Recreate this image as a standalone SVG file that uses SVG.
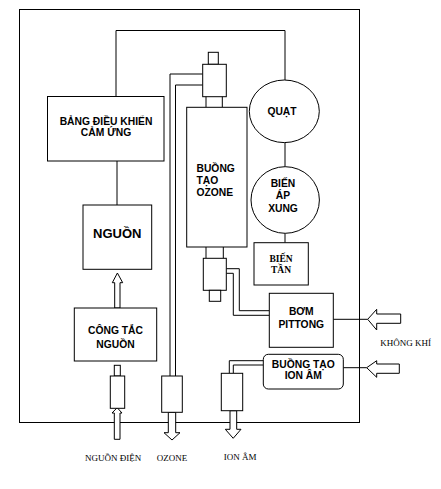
<svg xmlns="http://www.w3.org/2000/svg" width="441" height="489" viewBox="0 0 441 489">
<style>
.s{fill:none;stroke:#000;stroke-width:1}
.b{fill:#fff;stroke:#000;stroke-width:1}
.t{font-family:"Liberation Sans",Arial,sans-serif;font-weight:bold;font-size:10.3px;fill:#000;text-anchor:middle}
.l{text-anchor:start}
.sf{font-family:"Liberation Serif","Times New Roman",serif;font-size:9px;fill:#000;text-anchor:middle}
.sb{font-family:"Liberation Serif","Times New Roman",serif;font-weight:bold;font-size:9.5px;fill:#000;text-anchor:middle}
</style>
<rect width="441" height="489" fill="#fff"/>
<rect x="19.5" y="9.5" width="340" height="413" class="s"/>
<g id="connectors">
<polyline points="116,96.5 116,30.5 285,30.5 285,80" class="s"/>
<line x1="117" y1="161" x2="117" y2="205" class="s"/>
<line x1="285" y1="142.7" x2="285" y2="166.7" class="s"/>
<line x1="285" y1="233.3" x2="285" y2="242.7" class="s"/>
<polyline points="202.7,74 170,74 170,376" class="s"/>
<polyline points="202.7,85 175.5,85 175.5,376" class="s"/>
<polyline points="226.3,268.7 239.3,268.7 239.3,310.7 269.3,310.7" class="s"/>
<polyline points="226.3,273.3 233.3,273.3 233.3,315.3 269.3,315.3" class="s"/>
<polyline points="263.3,360.7 229.3,360.7 229.3,373.3" class="s"/>
<polyline points="263.3,365 233.3,365 233.3,373.3" class="s"/>
<line x1="333.3" y1="319.3" x2="367.7" y2="319.3" class="s"/>
<line x1="343.3" y1="367.7" x2="366.7" y2="367.7" class="s"/>
<polygon points="114.7,308 114.7,282.7 112.3,282.7 117.4,273 122.7,282.7 120,282.7 120,308" class="b"/>
<polygon points="114.3,439.3 114.3,413 112,413 117.2,407.7 122,413 120,413 120,439.3" class="b"/>
<polygon points="168.3,412.3 168.3,432.7 164,432.7 172,440 180,432.7 175.7,432.7 175.7,412.3" class="b"/>
<polygon points="230,410.7 230,429.3 225.3,429.3 233.2,438.3 241,429.3 236.7,429.3 236.7,410.7" class="b"/>
<polygon points="400.7,314 376.7,314 376.7,309.3 367.7,319.3 376.7,330 376.7,323.3 400.7,323.3" class="b"/>
<polygon points="399.3,364 376.7,364 376.7,360.7 366.7,367.7 376.7,377.3 376.7,373.3 399.3,373.3" class="b"/>
</g>
<g id="bang-dieu-khien">
<rect x="47.5" y="96.5" width="116.5" height="64.5" class="b"/>
<text class="t" x="106" y="124.5">BẢNG ĐIỀU KHIỂN</text>
<text class="t" x="106" y="135.5">CẢM ỨNG</text>
</g>
<g id="nguon">
<rect x="83" y="205" width="68.7" height="64.3" class="b"/>
<text class="t" x="117.3" y="238" style="font-size:13px">NGUỒN</text>
</g>
<g id="cong-tac-nguon">
<rect x="74.3" y="308" width="82.4" height="53" class="b"/>
<text class="t" x="115.5" y="334.3">CÔNG TẮC</text>
<text class="t" x="115.5" y="347.7">NGUỒN</text>
</g>
<g id="dau-nguon-dien">
<rect x="114.3" y="365.3" width="6" height="10.7" class="b"/>
<rect x="110.3" y="376" width="14.4" height="32.3" class="b"/>
</g>
<g id="buong-tao-ozone">
<rect x="208.3" y="52.3" width="10" height="12" class="b"/>
<rect x="202.7" y="64.3" width="23.6" height="32.4" class="b"/>
<line x1="206" y1="96.7" x2="206" y2="107.3" class="s"/>
<line x1="222.3" y1="96.7" x2="222.3" y2="107.3" class="s"/>
<rect x="186.7" y="107.3" width="60.3" height="139.7" class="b"/>
<text class="t l" x="196.5" y="172">BUỒNG</text>
<text class="t l" x="196.5" y="184">TẠO</text>
<text class="t l" x="196.5" y="196">OZONE</text>
<line x1="206" y1="247" x2="206" y2="258.3" class="s"/>
<line x1="223.3" y1="247" x2="223.3" y2="258.3" class="s"/>
<rect x="203.3" y="258.3" width="23" height="32" class="b"/>
<rect x="209.3" y="290.3" width="11.4" height="11" class="b"/>
</g>
<g id="quat">
<ellipse cx="284.3" cy="111.3" rx="35" ry="31.3" class="b"/>
<text class="t" x="282" y="115">QUẠT</text>
</g>
<g id="bien-ap-xung">
<ellipse cx="285.2" cy="200" rx="34.2" ry="33.3" class="b"/>
<text class="t" x="283" y="186.7">BIẾN</text>
<text class="t" x="283" y="199.3">ÁP</text>
<text class="t" x="283" y="212.3">XUNG</text>
</g>
<g id="bien-tan">
<rect x="254" y="242.7" width="54.3" height="42.3" class="b"/>
<text class="sb" x="281" y="261.7">BIẾN</text>
<text class="sb" x="281" y="273.3">TẦN</text>
</g>
<g id="bom-pittong">
<rect x="269.3" y="293.3" width="64" height="54" class="b"/>
<text class="t" x="301.3" y="315">BƠM</text>
<text class="t" x="301.3" y="327.7">PITTONG</text>
</g>
<g id="buong-tao-ion-am">
<rect x="263.3" y="354.3" width="80" height="34.7" rx="5" class="b"/>
<text class="t" x="303.3" y="367.7">BUỒNG TẠO</text>
<text class="t" x="303.3" y="378.5">ION ÂM</text>
</g>
<g id="dau-ozone">
<rect x="161.7" y="376" width="20.6" height="36.3" class="b"/>
</g>
<g id="dau-ion-am">
<rect x="221.3" y="373.3" width="21.4" height="37.4" class="b"/>
</g>
<g id="labels">
<text class="sf" x="113.2" y="460.7">NGUỒN ĐIỆN</text>
<text class="sf" x="172" y="460.7">OZONE</text>
<text class="sf" x="240.2" y="460">ION ÂM</text>
<text class="sf" x="405.7" y="346">KHÔNG KHÍ</text>
</g>
</svg>
